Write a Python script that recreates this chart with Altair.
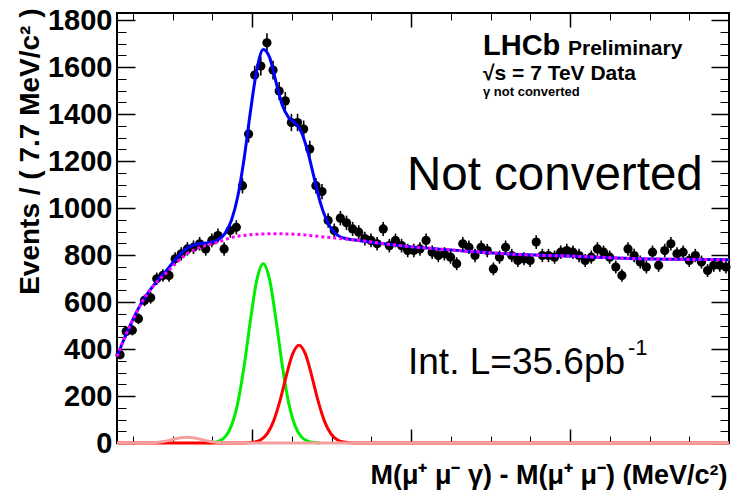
import altair as alt
import pandas as pd

FONT = "Liberation Sans"

# ---------------- data ----------------
bin_lo = 230.0
bin_w = 7.7
counts = [376, 475, 480, 529, 607, 618, 699, 713, 713, 784,
          805, 826, 833, 848, 826, 862, 883, 826, 904, 918,
          1095, 1315, 1566, 1604, 1703, 1587, 1498, 1456, 1364, 1364,
          1336, 1251, 1095, 1070, 947, 904, 957, 937, 911, 897,
          870, 862, 848, 911, 840, 862, 840, 819, 819, 826,
          862, 812, 798, 805, 791, 763, 848, 833, 798, 833,
          819, 741, 791, 833, 798, 777, 784, 777, 855, 798,
          798, 791, 812, 819, 812, 798, 777, 791, 826, 812,
          791, 749, 713, 826, 798, 770, 749, 812, 756, 819,
          848, 805, 812, 777, 798, 770, 734, 756, 756, 749]
mass = [round(bin_lo + bin_w * (i + 0.5), 2) for i in range(len(counts))]

bkg_x = [230, 240, 250, 261, 271, 282, 293, 305, 318, 334, 356, 376, 397, 419,
         439, 460, 482, 502, 527, 586, 661, 737, 812, 888, 963, 1000]
bkg_y = [368, 451, 525, 598, 647, 692, 727, 768, 805, 832, 854, 876, 886, 890,
         890, 887, 880, 873, 865, 840, 819, 802, 794, 784, 781, 780]

tot_x = [230, 240, 250, 261, 271, 282, 293, 305, 318, 334, 345, 356, 366, 374,
         382, 390, 398, 406, 414, 422, 430, 438, 446, 454, 462, 470, 478, 486,
         494, 502, 510, 518, 527, 586, 661, 737, 812, 888, 963, 1000]
tot_y = [368, 451, 525, 598, 648, 696, 737, 787, 829, 849, 852, 863, 892, 948,
         1050, 1212, 1413, 1590, 1675, 1641, 1537, 1437, 1385, 1362, 1323, 1240, 1129, 1021,
         946, 901, 879, 870, 865, 840, 819, 802, 794, 784, 781, 780]

chic1_x = [342, 350, 358, 366, 374, 382, 390, 398, 406, 414, 422, 430, 438, 446,
           454, 462, 470, 478, 486]
chic1_y = [0, 2, 8, 26, 74, 171, 329, 525, 695, 763, 695, 525, 329, 171,
           74, 26, 8, 2, 0]

chic2_x = [230, 387, 395, 403, 411, 419, 427, 435, 443, 451, 459, 467, 475, 483,
           491, 499, 507, 515, 523, 531, 1000]
chic2_y = [0, 0, 1, 4, 14, 40, 93, 179, 286, 379, 416, 379, 286, 179,
           93, 40, 14, 4, 1, 0, 0]

chic0_x = [230, 262, 270, 278, 286, 294, 302, 310, 318, 326, 334, 342, 350, 358,
           366, 374, 1000]
chic0_y = [0, 0, 1, 2, 5, 10, 17, 22, 24, 22, 17, 10, 5, 2, 1, 0, 0]

y_major = [0, 200, 400, 600, 800, 1000, 1200, 1400, 1600, 1800]
y_minor = [50, 100, 150, 250, 300, 350, 450, 500, 550, 650, 700, 750, 850, 900, 950,
           1050, 1100, 1150, 1250, 1300, 1350, 1450, 1500, 1550, 1650, 1700, 1750]
x_major = [400, 600, 800]
x_minor = [250, 300, 350, 450, 500, 550, 650, 700, 750, 850, 900, 950]

y_title = "Events / ( 7.7 MeV/c² )"
x_title = "M(μ⁺ μ⁻ γ) - M(μ⁺ μ⁻) (MeV/c²)"

# ---------------- scales / axes ----------------
W, H = 612, 430
xs = alt.Scale(domain=[230, 1000], nice=False, zero=False)
ys = alt.Scale(domain=[0, 1830], nice=False, zero=False)


def tick_axis(orient, offset, values, size, width):
    return alt.Axis(orient=orient, offset=offset, values=values, tickSize=size,
                    tickWidth=width, tickColor="black", labels=False, domain=False,
                    grid=False)


pts_df = pd.DataFrame({"mass": mass, "n": counts})

err = alt.Chart(pts_df).transform_calculate(
    lo="datum.n - sqrt(datum.n)", hi="datum.n + sqrt(datum.n)"
).mark_rule(color="black", strokeWidth=1.6).encode(
    x=alt.X("mass:Q", scale=xs, title=x_title,
            axis=alt.Axis(orient="bottom", labels=False, ticks=False, domain=False, grid=False,
                          titleFont=FONT, titleFontSize=27, titleFontWeight="bold",
                          titleColor="black", titleAlign="right", titleBaseline="alphabetic",
                          titleX=610, titleY=40)),
    y=alt.Y("lo:Q", scale=ys, title=y_title,
            axis=alt.Axis(orient="left", values=y_major, format="d", ticks=False,
                          domain=False, grid=False,
                          labelPadding=5, labelFlush=False, labelFont=FONT, labelFontSize=29,
                          labelFontWeight="bold", labelColor="black",
                          titleFont=FONT, titleFontSize=28, titleFontWeight="bold",
                          titleColor="black", titleAngle=270, titleAlign="right",
                          titleBaseline="alphabetic", titleX=-79, titleY=-5)),
    y2="hi:Q",
)

pts = alt.Chart(pts_df).mark_circle(size=85, color="black", opacity=1).encode(
    x=alt.X("mass:Q", scale=xs, title=None, axis=tick_axis("top", -H, x_major, 14, 1.5)),
    y=alt.Y("n:Q", scale=ys, title=None, axis=tick_axis("right", -W, y_major, 18, 1.5)),
)

total = alt.Chart(pd.DataFrame({"m": tot_x, "v": tot_y})).mark_line(
    color="#0000ff", strokeWidth=3, interpolate="monotone"
).encode(
    x=alt.X("m:Q", scale=xs, axis=None),
    y=alt.Y("v:Q", scale=ys, axis=None),
)

bkg = alt.Chart(pd.DataFrame({"m": bkg_x, "v": bkg_y})).mark_line(
    color="#ff00ff", strokeWidth=3, strokeDash=[3, 3], interpolate="monotone"
).encode(
    x=alt.X("m:Q", scale=xs, title=None, axis=tick_axis("top", -H, x_minor, 7, 1)),
    y=alt.Y("v:Q", scale=ys, title=None, axis=tick_axis("right", -W, y_minor, 9, 1)),
)

green = alt.Chart(pd.DataFrame({"m": chic1_x, "v": chic1_y})).mark_line(
    color="#00ee00", strokeWidth=3, interpolate="monotone"
).encode(
    x=alt.X("m:Q", scale=xs, title=None, axis=tick_axis("bottom", -H, x_major, 14, 1.5)),
    y=alt.Y("v:Q", scale=ys, title=None, axis=tick_axis("left", -W, y_major, 18, 1.5)),
)

red = alt.Chart(pd.DataFrame({"m": chic2_x, "v": chic2_y})).mark_line(
    color="#ff0000", strokeWidth=3, interpolate="monotone"
).encode(
    x=alt.X("m:Q", scale=xs, title=None, axis=tick_axis("bottom", -H, x_minor, 7, 1)),
    y=alt.Y("v:Q", scale=ys, title=None, axis=tick_axis("left", -W, y_minor, 9, 1)),
)

pink = alt.Chart(pd.DataFrame({"m": chic0_x, "v": chic0_y})).mark_line(
    color="#f4a0a0", strokeWidth=3, interpolate="monotone"
).encode(
    x=alt.X("m:Q", scale=xs, axis=None),
    y=alt.Y("v:Q", scale=ys, axis=None),
)


def label(txt, x, y, size, weight="normal"):
    return alt.Chart(pd.DataFrame({"t": [txt]})).mark_text(
        align="left", baseline="alphabetic", font=FONT, fontSize=size,
        fontWeight=weight, color="black"
    ).encode(x=alt.value(x), y=alt.value(y), text="t:N")


texts = [
    label("LHCb", 366, 42, 29, "bold"),
    label("Preliminary", 451, 42, 21, "bold"),
    label("√s = 7 TeV Data", 366, 67, 21, "bold"),
    label("γ not converted", 366, 83, 13, "bold"),
    label("Not converted", 290, 177, 47.5),
    label("Int. L=35.6pb", 291, 361, 37),
    label("-1", 511, 342, 22),
]

chart = alt.layer(err, pts, total, bkg, green, red, pink, *texts).resolve_axis(
    x="independent", y="independent"
).properties(
    width=W, height=H,
    padding={"left": 117, "top": 13, "right": 2, "bottom": 48},
    autosize=alt.AutoSizeParams(type="none"),
    background="white",
).configure_view(stroke="black", strokeWidth=2)

chart.save("out.html", embed_options={"renderer": "svg", "actions": False})
